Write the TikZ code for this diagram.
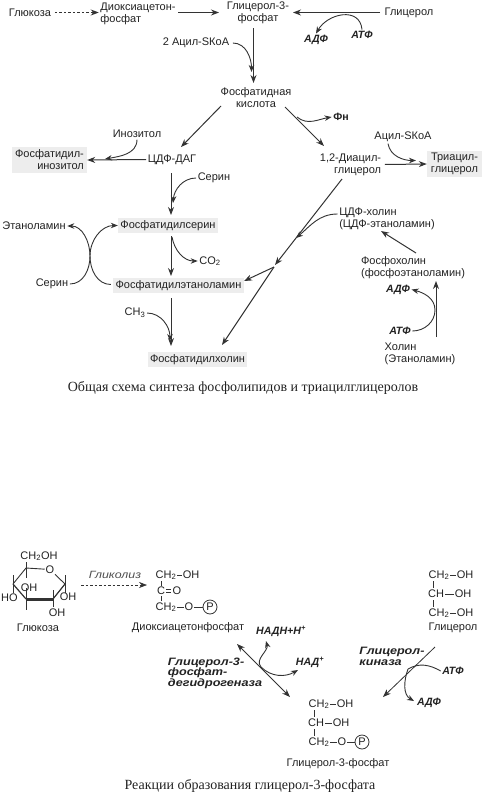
\documentclass[tikz,border=0pt]{standalone}
\usepackage{fontspec}
\setmainfont{Liberation Sans}
\newfontfamily\capfont{Liberation Serif}
\newfontfamily\widefont[FakeStretch=1.18]{Liberation Sans}
\usetikzlibrary{
  positioning,
  arrows.meta,
}
\definecolor{border}{HTML}{333333}
\definecolor{inkText}{HTML}{222222}
\definecolor{fillMark}{HTML}{EDEDED}
\tikzset{
  txt/.style={font=\fontsize{11}{12}\selectfont, text=inkText, inner sep=1.5pt, align=center},
  lefttxt/.style={txt, align=left},
  righttxt/.style={txt, align=right},
  markbox/.style={txt, fill=fillMark, inner sep=2.5pt},
  cofactor/.style={txt, font=\fontsize{10.6}{12}\selectfont\bfseries\itshape},
  enzyme/.style={txt, align=left, font=\fontsize{10.7}{10.5}\widefont\bfseries\itshape},
  chem/.style={txt, inner sep=0.8pt},
  caption/.style={font=\fontsize{14}{16}\capfont, text=inkText, inner sep=0pt},
  arrow/.style={-{Stealth[length=8pt,width=6pt]}, border, line width=1pt},
  darrow/.style={arrow, dashed, dash pattern=on 2.5pt off 2pt},
  curve/.style={-{Stealth[length=7pt,width=5.5pt]}, border, line width=0.9pt},
  bond/.style={border, line width=0.8pt},
  ring/.style={border, line width=0.9pt},
}

\begin{document}
\begin{tikzpicture}[x=1pt, y=-1pt]
  \path[use as bounding box] (0,0) rectangle (482,795);

  % Top row
  \node[txt] (gluc) at (30,12.5) {Глюкоза};
  \node[lefttxt] (dhap) at (138,13.5) {Диоксиацетон-\\фосфат};
  \node[txt] (g3p) at (258,13) {Глицерол-3-\\фосфат};
  \node[txt] (glyc) at (409,12.5) {Глицерол};
  \node[cofactor] (adpa) at (316,40) {АДФ};
  \node[cofactor] (atpa) at (362,35) {АТФ};
  \draw[darrow] (gluc.east) ++(2,0) -- (dhap.west |- gluc);
  \draw[arrow] (178,12.5) -- (219,12.5);
  \draw[arrow] (glyc.west) ++(-3,0) -- (293,12.5);
  \draw[curve] (atpa.north) to[out=95,in=60,looseness=1.3] (adpa.north);

  % Phosphatidic acid
  \node[txt] (acyl) at (196,43) {2 Ацил-SКоА};
  \node[txt] (pacid) at (256,97.5) {Фосфатидная\\кислота};
  \coordinate (mergea) at (251.5,72);
  \draw[arrow] (253.5,28) -- (253.5,83);
  \draw[curve] (acyl.east) ++(2,0) to[out=0,in=90] (mergea);

  % Left branch
  \node[txt] (cdp) at (172,159.5) {ЦДФ-ДАГ};
  \node[txt] (ino) at (137,134) {Инозитол};
  \node[markbox, align=right, minimum width=75pt] (pi) at (49.5,160) {Фосфатидил-\\инозитол};
  \coordinate (mergeb) at (105,159);
  \draw[arrow] (221,106) -- (181,147);
  \draw[arrow] (cdp.west) -- (pi.east);
  \draw[curve] (ino.south) to[out=-90,in=10] (mergeb);

  % Right branch
  \node[righttxt] (dag) at (350.5,164.5) {1,2-Диацил-\\глицерол};
  \node[markbox, align=right, minimum width=55pt] (tag) at (454.5,164) {Триацил-\\глицерол};
  \node[txt] (acylb) at (403,137) {Ацил-SКоА};
  \node[txt, font=\fontsize{10.6}{12}\selectfont\bfseries] (pn) at (341,117) {Фн};
  \coordinate (pnstart) at (297,117);
  \coordinate (mergec) at (416,160.5);
  \draw[arrow] (285,107) -- (324,146);
  \draw[curve] (pnstart) to[out=-40,in=190] (pn.west);
  \draw[arrow] (dag.east) ++(2,0) -- (tag.west);
  \draw[curve] (acylb.south) ++(-15,0) to[out=-80,in=180] (mergec);

  % Serine column
  \node[markbox] (ps) at (168,225.5) {Фосфатидилсерин};
  \node[markbox] (pe) at (178.5,285.5) {Фосфатидилэтаноламин};
  \node[markbox] (pc) at (197.5,359.5) {Фосфатидилхолин};
  \node[txt] (ser) at (214,178) {Серин};
  \node[txt] (co2) at (210,261) {CO\textsubscript{2}};
  \node[txt] (me) at (135,313) {CH\textsubscript{3}};
  \coordinate (merged) at (173,203);
  \coordinate (merge) at (170,341);
  \draw[arrow] (171,173) -- (171,215);
  \draw[arrow] (171,236) -- (171,276);
  \draw[arrow] (171,298) -- (171,346);
  \draw[curve] (ser.west) to[out=180,in=85] (merged);
  \draw[curve] (172,237) to[out=-80,in=180] (co2.west);
  \draw[curve] (me.east) to[out=0,in=90] (merge);

  % Serine exchange
  \node[txt] (eta) at (34,226) {Этаноламин};
  \node[txt] (serb) at (52,284) {Серин};
  \coordinate (cross) at (90,256);
  \draw[curve] (serb.east) to[out=0,in=-90] (cross) to[out=90,in=180] (ps.west);
  \draw[curve] (pe.west) ++(-2,-1) to[out=180,in=-90] (cross) to[out=90,in=0] (eta.east);

  % Choline route
  \node[lefttxt] (cdpc) at (387,219) {ЦДФ-холин\\(ЦДФ-этаноламин)};
  \node[lefttxt] (pcho) at (413,268) {Фосфохолин\\(фосфоэтаноламин)};
  \node[lefttxt] (chol) at (420,353.5) {Холин\\(Этаноламин)};
  \node[cofactor] (adpb) at (398,289.5) {АДФ};
  \node[cofactor] (atpb) at (400,331) {АТФ};
  \coordinate (split) at (274,267);
  \coordinate (mergef) at (296,238);
  \draw[arrow] (342,179) -- (275,265);
  \draw[arrow] (split) -- (pe.east |- 0,281);
  \draw[arrow] (split) -- (222,345);
  \draw[curve] (cdpc.west) ++(0,-5) to[out=180,in=40] (mergef);
  \draw[arrow] (416,253) -- (381,231);
  \draw[arrow] (436,337) -- (436,281);
  \draw[curve] (atpb.east) to[out=0,in=-90] (435,310) to[out=90,in=-15] (adpb.east);

  \node[caption] (capa) at (243,387.5) {Общая схема синтеза фосфолипидов и триацилглицеролов};

  % Glucose ring
  \coordinate (cfive) at (26,568);
  \coordinate (cone) at (65,584);
  \coordinate (ctwo) at (53,599);
  \coordinate (cthree) at (26,599);
  \coordinate (cfour) at (13,584);
  \node[chem] (oring) at (50,569.5) {O};
  \node[chem] (cho) at (39,556) {CH\textsubscript{2}OH};
  \node[chem] (ohc) at (29,588) {OH};
  \node[chem] (hod) at (9.5,598) {HO};
  \node[chem] (ohe) at (68,597) {OH};
  \node[chem] (ohb) at (57,613) {OH};
  \node[txt] (glucb) at (38,628) {Глюкоза};
  \draw[ring] (oring) -- (cfive) -- (cfour);
  \draw[ring] (oring) -- (cone);
  \draw[border, line width=1.2pt] (cfour) -- (cthree);
  \draw[border, line width=1.2pt] (cone) -- (ctwo);
  \draw[border, line width=3pt] (cthree) -- (ctwo);
  \draw[bond] (cfive) ++(0,-6) -- ++(0,16);
  \draw[bond] (cfour) ++(0,-9) -- ++(0,18);
  \draw[bond] (cone) ++(0,-9) -- ++(0,18);
  \draw[bond] (cthree) ++(0,-11) -- ++(0,22);
  \draw[bond] (ctwo) ++(0,-9) -- ++(0,17);

  % Dihydroxyacetone phosphate
  \node[txt, font=\fontsize{10.5}{12}\widefont\itshape, text=inkText!80] (glycol) at (115,575) {Гликолиз};
  \node[chem] (da) at (166,575) {CH\textsubscript{2}};
  \node[chem] (db) at (191,575) {OH};
  \node[chem] (dc) at (161,591) {C};
  \node[chem] (dd) at (177,591) {O};
  \node[chem] (de) at (166,607) {CH\textsubscript{2}};
  \node[chem] (df) at (189,607) {O};
  \node[chem, draw=border, circle, line width=0.8pt, inner sep=0.6pt, minimum size=14pt] (dp) at (210,607) {P};
  \node[txt] (dhapb) at (188,628) {Диоксиацетонфосфат};
  \draw[darrow, line width=0.6pt] (81,585) -- (147,585);
  \draw[bond] (da) -- (db);
  \draw[bond] (de) -- (df);
  \draw[bond] (df) -- (dp);
  \draw[bond] (161,581) -- (dc);
  \draw[bond] (dc) -- (161,601);
  \draw[bond, line width=0.6pt] (dc.east) ++(0,-1.3) -- ++(5.5,0);
  \draw[bond, line width=0.6pt] (dc.east) ++(0,1.3) -- ++(5.5,0);

  % Glycerol
  \node[chem] (ga) at (439,575) {CH\textsubscript{2}};
  \node[chem] (gb) at (465,575) {OH};
  \node[chem] (gc) at (436,594) {CH};
  \node[chem] (gd) at (463,594) {OH};
  \node[chem] (ge) at (439,613) {CH\textsubscript{2}};
  \node[chem] (gf) at (465,613) {OH};
  \node[txt] (glycb) at (453,628) {Глицерол};
  \draw[bond] (ga) -- (gb);
  \draw[bond] (gc) -- (gd);
  \draw[bond] (ge) -- (gf);
  \draw[bond] (433,581) -- (433,588);
  \draw[bond] (433,600) -- (433,607);

  % Glycerol 3-phosphate
  \node[chem] (gpa) at (319,704) {CH\textsubscript{2}};
  \node[chem] (gpb) at (345,704) {OH};
  \node[chem] (gpc) at (316,723) {CH};
  \node[chem] (gpd) at (341,723) {OH};
  \node[chem] (gpe) at (319,742) {CH\textsubscript{2}};
  \node[chem] (gpf) at (342,742) {O};
  \node[chem, draw=border, circle, line width=0.8pt, inner sep=0.6pt, minimum size=14pt] (gpp) at (362,742) {P};
  \node[txt] (gtp) at (338,764) {Глицерол-3-фосфат};
  \draw[bond] (gpa) -- (gpb);
  \draw[bond] (gpc) -- (gpd);
  \draw[bond] (gpe) -- (gpf);
  \draw[bond] (gpf) -- (gpp);
  \draw[bond] (314,710) -- (314,717);
  \draw[bond] (314,729) -- (314,736);

  % Enzymes
  \node[enzyme] (gdh) at (215,673) {Глицерол-3-\\фосфат-\\дегидрогеназа};
  \node[enzyme] (gk) at (392,656.5) {Глицерол-\\киназа};
  \node[cofactor] (nadh) at (281,631) {НАДН+Н\textsuperscript{+}};
  \node[cofactor] (nad) at (310,662) {НАД\textsuperscript{+}};
  \node[cofactor] (atpc) at (453,671) {АТФ};
  \node[cofactor] (adpc) at (429,703) {АДФ};
  \coordinate (kina) at (435,647);
  \coordinate (kinb) at (383,697);
  \coordinate (kinc) at (408,669);
  \coordinate (kind) at (414,701);
  \coordinate (deha) at (237,644);
  \coordinate (dehb) at (290,697);
  \coordinate (dehc) at (261,667);
  \coordinate (dehd) at (266,641);
  \coordinate (dehe) at (298,670);
  \draw[arrow, line width=0.8pt] (kina) -- (kinb);
  \draw[arrow, line width=0.8pt, {Stealth[length=8pt,width=6pt]}-{Stealth[length=8pt,width=6pt]}] (deha) -- (dehb);
  \draw[curve, -] (atpc.west) to[out=150,in=30] (kinc);
  \draw[curve] (kinc) to[out=-110,in=150] (kind);
  \draw[curve] (dehc) to[out=130,in=-75] (dehd);
  \draw[curve] (dehc) to[out=-45,in=210] (dehe);

  \node[caption] (capb) at (250,786) {Реакции образования глицерол-3-фосфата};

\end{tikzpicture}
\end{document}
